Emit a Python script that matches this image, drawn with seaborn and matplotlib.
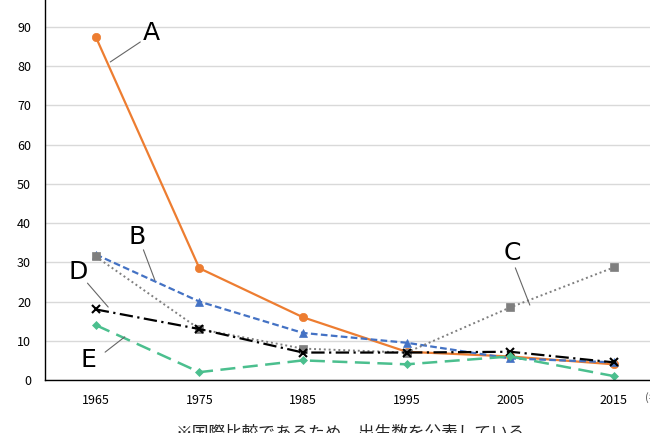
import matplotlib
matplotlib.use("Agg")
import matplotlib.pyplot as plt
import seaborn as sns
import pandas as pd

years = [1965, 1975, 1985, 1995, 2005, 2015]
series_a = [87.5, 28.5, 16, 7.2, 6, 4]
series_b = [32, 20, 12, 9.5, 5.5, 4.5]
series_c = [31.5, 13, 8, 7, 18.5, 28.7]
series_d = [18, 13, 7, 7, 7.2, 4.5]
series_e = [14, 2, 5, 4, 6, 1]

sns.set_theme(style="white")
plt.rcParams["font.family"] = ["Noto Sans CJK JP", "DejaVu Sans"]

fig = plt.figure(figsize=(6.5, 4.33), dpi=100)
ax = fig.add_axes([45 / 650, 53 / 433, 605 / 650, 380 / 433])

styles = [
    ("A", series_a, "#ED7D31", "-", "o", 6, 1.6),
    ("B", series_b, "#4472C4", (0, (3, 1.5)), "^", 6, 1.6),
    ("C", series_c, "#7F7F7F", (0, (1, 1.5)), "s", 6, 1.4),
    ("D", series_d, "#000000", (0, (6, 2, 1, 2)), "x", 6, 1.6),
    ("E", series_e, "#4BBF8E", (0, (6, 3)), "D", 4.5, 1.8),
]
for name, vals, col, ls, mk, ms, lw in styles:
    df = pd.DataFrame({"year": years, "value": vals})
    sns.lineplot(data=df, x="year", y="value", ax=ax, color=col, linestyle=ls,
                 marker=mk, markersize=ms, linewidth=lw, markeredgecolor=col,
                 markeredgewidth=1.5 if mk == "x" else 0.5)

# labels with leader lines
labels = [
    ("A", 1970.4, 88.5, (1966.4, 1969.3), (81.1, 86.2)),
    ("B", 1969.0, 36.5, (1969.6, 1970.7), (33.2, 25.5)),
    ("C", 2005.2, 32.4, (2005.5, 2006.9), (28.6, 19.1)),
    ("D", 1963.3, 27.6, (1964.2, 1966.2), (24.7, 18.6)),
    ("E", 1964.3, 5.1, (1965.9, 1967.8), (7.1, 11.0)),
]
for t, tx, ty, lx, ly in labels:
    ax.text(tx, ty, t, fontsize=18, ha="center", va="center", color="black",
            family="Liberation Sans Narrow")
    ax.plot(lx, ly, color="#666666", linewidth=0.8)

ax.set_xlim(1960.1, 2018.5)
ax.set_ylim(0, 96.9)
ax.set_xticks(years)
ax.set_yticks(range(0, 91, 10))
ax.tick_params(labelsize=9, length=0, pad=10, labelcolor="black")
ax.set_xlabel("")
ax.set_ylabel("")
ax.yaxis.grid(True, color="#D9D9D9", linewidth=1)
ax.xaxis.grid(False)
for s in ["top", "right"]:
    ax.spines[s].set_visible(False)
for s in ["left", "bottom"]:
    ax.spines[s].set_color("black")
    ax.spines[s].set_linewidth(1)

fig.text(645 / 650, 1 - 397 / 433, "(年)", fontsize=8, ha="left", va="center", color="#555555")
fig.text(350 / 650, 1 - 433 / 433, "※国際比較であるため、出生数を公表している", fontsize=12,
         ha="center", va="center")

fig.savefig("out.png", dpi=100)
